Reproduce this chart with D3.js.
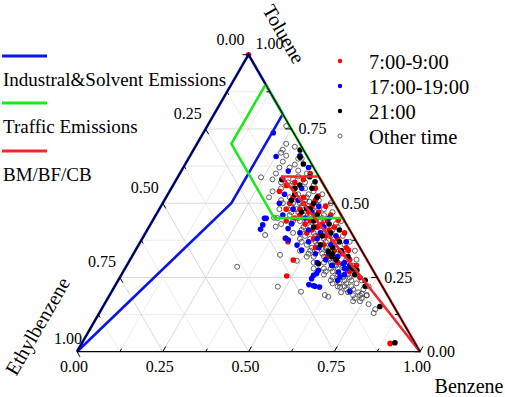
<!DOCTYPE html>
<html>
<head>
<meta charset="utf-8">
<script src="https://cdnjs.cloudflare.com/ajax/libs/d3/7.8.5/d3.min.js"></script>
<style>
  body { margin: 0; background: #fff; }
</style>
</head>
<body>
<svg></svg>
<script>
// ternary data: [toluene, ethylbenzene], benzene = 1 - T - E
const otherTime = [
  [0.76,0.01],[0.67,0.07],[0.65,0.03],[0.65,0.02],[0.62,0.10],[0.61,0.05],[0.60,0.03],[0.587,0.17],[0.58,0.08],[0.57,0.05],
  [0.63,0.05],[0.69,0.02],[0.66,0.06],[0.60,0.12],[0.64,0.08],[0.70,0.04],[0.68,0.06],[0.62,0.07],[0.59,0.06],[0.57,0.10],
  [0.56,0.10],[0.55,0.06],[0.55,0.13],[0.54,0.04],[0.54,0.16],[0.53,0.09],[0.53,0.02],[0.52,0.12],[0.52,0.07],[0.51,0.15],
  [0.51,0.04],[0.50,0.10],[0.50,0.01],[0.57,0.12],[0.56,0.03],[0.58,0.14],[0.52,0.18],[0.505,0.07],[0.55,0.09],[0.53,0.06],
  [0.52,0.10],[0.51,0.08],[0.50,0.12],[0.49,0.10],[0.48,0.12],[0.47,0.07],[0.46,0.11],[0.45,0.06],[0.45,0.13],[0.44,0.11],
  [0.43,0.09],[0.42,0.13],[0.41,0.08],[0.40,0.11],[0.47,0.14],[0.44,0.15],[0.50,0.15],[0.49,0.08],
  [0.49,0.13],[0.49,0.06],[0.48,0.17],[0.48,0.09],[0.47,0.02],[0.47,0.12],[0.46,0.15],[0.46,0.05],[0.45,0.10],[0.45,0.19],
  [0.44,0.07],[0.44,0.13],[0.43,0.03],[0.43,0.16],[0.42,0.09],[0.42,0.11],[0.41,0.05],[0.41,0.14],[0.40,0.08],[0.40,0.17],
  [0.451,0.20],[0.421,0.21],[0.48,0.04],[0.43,0.19],[0.46,0.09],[0.44,0.01],[0.42,0.03],
  [0.39,0.11],[0.39,0.03],[0.38,0.13],[0.38,0.06],[0.37,0.16],[0.37,0.09],[0.36,0.12],[0.36,0.04],[0.35,0.07],[0.35,0.14],
  [0.34,0.10],[0.34,0.18],[0.33,0.05],[0.33,0.12],[0.32,0.08],[0.32,0.15],[0.31,0.11],[0.31,0.03],[0.30,0.09],[0.30,0.13],
  [0.393,0.255],[0.326,0.245],[0.34,0.02],[0.33,0.16],[0.31,0.06],[0.35,0.10],[0.37,0.02],[0.306,0.206],
  [0.39,0.07],[0.38,0.09],[0.37,0.12],[0.36,0.07],[0.35,0.11],[0.34,0.13],[0.33,0.08],[0.32,0.12],[0.31,0.09],[0.30,0.11],
  [0.29,0.08],[0.28,0.10],[0.27,0.12],[0.26,0.08],[0.25,0.10],[0.36,0.15],[0.34,0.15],[0.32,0.17],[0.30,0.16],[0.28,0.14],
  [0.39,0.14],[0.38,0.16],
  [0.29,0.10],[0.29,0.05],[0.28,0.12],[0.28,0.07],[0.27,0.09],[0.27,0.14],[0.26,0.06],[0.26,0.11],[0.25,0.08],[0.25,0.13],
  [0.24,0.05],[0.24,0.10],[0.23,0.07],[0.23,0.12],[0.22,0.09],[0.22,0.04],[0.21,0.06],[0.21,0.11],[0.20,0.08],[0.28,0.17],
  [0.26,0.15],[0.24,0.14],[0.218,0.124],[0.195,0.072],[0.19,0.061],
  [0.24,0.08],[0.23,0.10],[0.22,0.11],[0.21,0.09],[0.20,0.11],[0.19,0.08],[0.18,0.10],[0.17,0.09],[0.23,0.14],[0.22,0.13],
  [0.20,0.13],
  [0.19,0.10],[0.19,0.06],[0.18,0.08],[0.17,0.11],[0.16,0.07],[0.143,0.059],[0.13,0.07],
  [0.286,0.39],[0.219,0.305],[0.202,0.246],[0.191,0.182],[0.185,0.175]
]

const morning = [
  [1.00,0.00],
  [0.60,0.02],[0.58,0.05],[0.57,0.08],[0.55,0.03],[0.524,0.035],[0.52,0.08],[0.52,0.11],[0.51,0.05],[0.50,0.13],[0.50,0.09],
  [0.49,0.03],[0.49,0.07],[0.48,0.11],[0.48,0.15],[0.47,0.06],[0.47,0.09],[0.46,0.12],[0.46,0.03],[0.45,0.08],[0.45,0.14],
  [0.44,0.05],[0.44,0.10],[0.43,0.07],[0.43,0.12],[0.42,0.04],[0.42,0.09],[0.41,0.11],[0.41,0.06],[0.40,0.13],[0.40,0.02],
  [0.39,0.08],[0.39,0.10],[0.38,0.05],[0.38,0.12],[0.37,0.07],[0.36,0.10],[0.35,0.04],[0.35,0.13],[0.34,0.08],[0.33,0.06],
  [0.32,0.11],[0.31,0.05],[0.30,0.09],[0.29,0.04],[0.27,0.07],[0.25,0.05],[0.382,0.202],[0.37,0.20],[0.309,0.215],[0.255,0.261],
  [0.028,0.073],[0.54,0.14],[0.56,0.11],[0.44,0.17],[0.443,0.017],[0.342,0.038]
]

const evening = [
  [0.737,0.059],[0.657,0.091],[0.66,0.02],[0.62,0.015],[0.608,0.08],[0.58,0.11],[0.55,0.07],[0.53,0.13],[0.51,0.10],[0.50,0.16],
  [0.49,0.05],[0.48,0.13],[0.47,0.08],[0.46,0.17],[0.45,0.04],[0.449,0.229],[0.449,0.224],[0.45,0.11],[0.427,0.245],[0.412,0.259],
  [0.432,0.158],[0.42,0.07],[0.415,0.177],[0.41,0.12],[0.40,0.09],[0.40,0.15],[0.39,0.05],[0.382,0.20],[0.376,0.196],[0.38,0.11],
  [0.37,0.14],[0.37,0.03],[0.359,0.179],[0.36,0.08],[0.35,0.12],[0.342,0.174],[0.34,0.06],[0.33,0.10],[0.33,0.14],[0.32,0.08],
  [0.31,0.12],[0.30,0.07],[0.30,0.15],[0.29,0.11],[0.29,0.06],[0.28,0.08],[0.274,0.159],[0.263,0.17],[0.257,0.182],[0.246,0.193],
  [0.226,0.211],[0.222,0.20],[0.22,0.196],[0.218,0.184],[0.268,0.104],[0.252,0.107],[0.291,0.112],[0.279,0.075],[0.296,0.076],
  [0.291,0.058],[0.203,0.103],[0.24,0.12],[0.26,0.09]
]

const night = [
  [0.679,0.01],[0.655,0.022],[0.632,0.024],[0.589,0.027],[0.572,0.02],[0.55,0.04],[0.58,0.113],[0.561,0.07],[0.55,0.09],
  [0.53,0.10],[0.51,0.12],[0.50,0.06],[0.483,0.089],[0.48,0.08],[0.47,0.11],[0.46,0.07],[0.44,0.09],[0.43,0.05],[0.42,0.10],
  [0.40,0.06],[0.39,0.09],[0.37,0.05],[0.36,0.11],[0.35,0.08],[0.337,0.099],[0.32,0.097],[0.31,0.09],[0.34,0.06],[0.33,0.09],
  [0.32,0.05],[0.296,0.148],[0.285,0.057],[0.279,0.055],[0.274,0.047],[0.26,0.06],[0.24,0.04],[0.22,0.05],[0.152,0.041],
  [0.03,0.058],[0.41,0.03],[0.52,0.04]
]

// source regions, [benzene, toluene]
const industrial = [[0,0],[0.2,0.5],[0.2,0.8],[0,1],[0,0]]
const traffic = [[0.1,0.9],[0.1,0.7],[0.35,0.45],[0.55,0.45],[0.1,0.9]]
const biomass = [[0.3,0.59],[0.41,0.59],[1,0],[0.35,0.55],[0.3,0.59]]

const sourceNames = ["Industral&Solvent Emissions", "Traffic Emissions", "BM/BF/CB"]
const sourceColors = ["#0a14f0", "#1ee61e", "#f0282d"]
const timeNames = ["7:00-9:00", "17:00-19:00", "21:00", "Other time"]

const ticks = [0, 0.25, 0.5, 0.75, 1]
const minorTicks = [0.125, 0.375, 0.625, 0.875]
const gridVals = [0.125, 0.25, 0.375, 0.5, 0.625, 0.75, 0.875]
const tickFmt = d3.format(".2f")

const width = 505, height = 397
const serif = "'Liberation Serif', 'Times New Roman', 'DejaVu Serif', serif"

let svg = d3.select("svg")
    .attr("width", width)
    .attr("height", height)
    .style("font-family", serif)

let xs = d3.scaleLinear().domain([0, 1]).range([77, 420])
let ys = d3.scaleLinear().domain([0, 1]).range([351.7, 54.7])

// (benzene, toluene) -> pixel
function proj(b, t) {
    return [xs(b + t / 2), ys(t)]
}
let line = d3.line().x(d => proj(d[0], d[1])[0]).y(d => proj(d[0], d[1])[1])

// grid
let grid = svg.append("g")
gridVals.forEach(v => {
    let major = ticks.indexOf(v) >= 0
    let segs = [
        [[v, 0], [v, 1 - v]],         // benzene const
        [[1 - v, v], [0, v]],         // toluene const
        [[1 - v, 0], [0, 1 - v]]      // ethylbenzene const
    ]
    segs.forEach(s => {
        grid.append("path")
            .attr("d", line(s))
            .attr("fill", "none")
            .attr("stroke", major ? "#cfcfcf" : "#e8e8e8")
            .attr("stroke-width", 0.8)
    })
})

// scatter
function dots(data, color) {
    svg.append("g").selectAll("circle")
        .data(data)
        .enter()
        .append("circle")
        .attr("cx", d => proj(1 - d[0] - d[1], d[0])[0])
        .attr("cy", d => proj(1 - d[0] - d[1], d[0])[1])
        .attr("r", color ? 2.8 : 2.5)
        .attr("fill", color ? color : "none")
        .attr("stroke", color ? "none" : "#3a3a3a")
        .attr("stroke-width", 0.8)
}
dots(otherTime, null)
dots(morning, "#ff0000")
dots(evening, "#0000ff")
dots(night, "#000000")

// source polygons
;[industrial, traffic, biomass].forEach((p, i) => {
    svg.append("path")
        .attr("d", line(p))
        .attr("fill", "none")
        .attr("stroke", sourceColors[i])
        .attr("stroke-width", 2.6)
        .attr("stroke-linejoin", "miter")
})

// frame
svg.append("path")
    .attr("d", line([[0, 0], [1, 0], [0, 1], [0, 0]]))
    .attr("fill", "none")
    .attr("stroke", "#000")
    .attr("stroke-width", 1.3)

// ticks
let tk = svg.append("g").attr("stroke", "#000").attr("stroke-width", 1)
function tickMarks(vals, len) {
    vals.forEach(v => {
        // benzene (bottom), up-right
        let p = proj(v, 0)
        tk.append("line").attr("x1", p[0]).attr("y1", p[1])
            .attr("x2", p[0] + len * 0.5).attr("y2", p[1] - len * 0.866)
        // toluene (right), left
        p = proj(1 - v, v)
        tk.append("line").attr("x1", p[0]).attr("y1", p[1])
            .attr("x2", p[0] - len).attr("y2", p[1])
        // ethylbenzene (left), down-right
        p = proj(0, 1 - v)
        tk.append("line").attr("x1", p[0]).attr("y1", p[1])
            .attr("x2", p[0] + len * 0.5).attr("y2", p[1] + len * 0.866)
    })
}
tickMarks(ticks, 6)
tickMarks(minorTicks, 3.5)

// tick labels
let lab = svg.append("g").attr("font-size", 16).attr("font-family", serif)
ticks.forEach(v => {
    let p = proj(v, 0)
    lab.append("text").attr("x", p[0] - 3).attr("y", p[1] + 20)
        .attr("text-anchor", "middle").text(tickFmt(v))
    p = proj(1 - v, v)
    lab.append("text").attr("x", p[0] + 7).attr("y", p[1] + 5.5 - (v == 1 ? 11 : 0))
        .attr("text-anchor", "start").text(tickFmt(v))
    p = proj(0, 1 - v)
    lab.append("text").attr("x", p[0] + (v == 1 ? 5 : -4)).attr("y", p[1] - (v == 1 ? 8 : 10))
        .attr("text-anchor", "end").text(tickFmt(v))
})

// axis titles
svg.append("text").attr("transform", "translate(284,34) rotate(60)").attr("font-family", serif)
    .attr("text-anchor", "middle").attr("dy", "0.35em").attr("font-size", 20).text("Toluene")
svg.append("text").attr("transform", "translate(37.5,326) rotate(-60)").attr("font-family", serif)
    .attr("text-anchor", "middle").attr("dy", "0.35em").attr("font-size", 20).text("Ethylbenzene")
svg.append("text").attr("x", 469).attr("y", 393).attr("font-family", serif)
    .attr("text-anchor", "middle").attr("font-size", 20).text("Benzene")

// source legend
let lineY = [56, 103, 151]
sourceNames.forEach((n, i) => {
    svg.append("line").attr("x1", 2).attr("x2", 47)
        .attr("y1", lineY[i]).attr("y2", lineY[i])
        .attr("stroke", sourceColors[i]).attr("stroke-width", 3)
    svg.append("text").attr("x", 3).attr("y", lineY[i] + 30).attr("font-family", serif)
        .attr("font-size", 19).text(n)
})

// time legend
let legColors = ["#ff0000", "#0000ff", "#000000", null]
timeNames.forEach((n, i) => {
    let y = 61 + i * 25
    svg.append("circle").attr("cx", 340).attr("cy", y)
        .attr("r", legColors[i] ? 2.2 : 2)
        .attr("fill", legColors[i] ? legColors[i] : "none")
        .attr("stroke", legColors[i] ? "none" : "#3a3a3a")
        .attr("stroke-width", 0.8)
    svg.append("text").attr("x", 369).attr("y", y + 7.5).attr("font-family", serif)
        .attr("font-size", 20.5).text(n)
})
</script>
</body>
</html>
